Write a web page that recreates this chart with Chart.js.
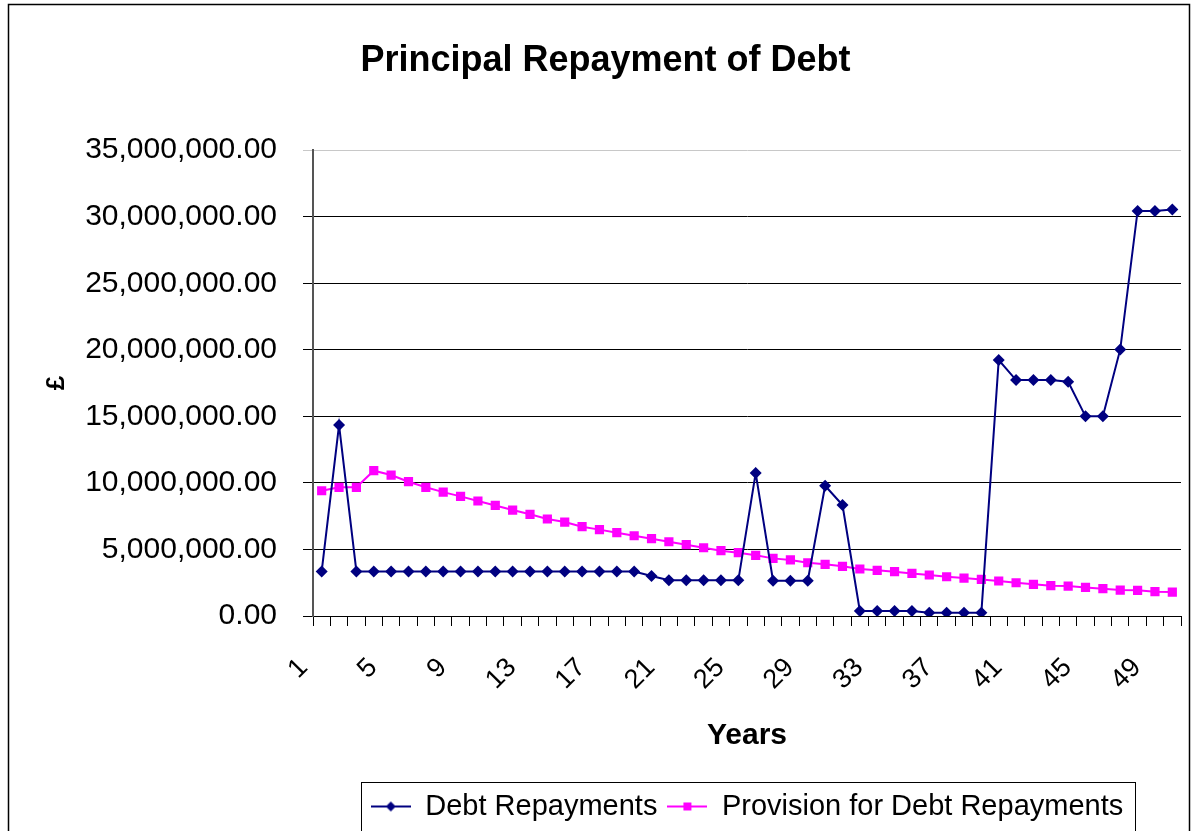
<!DOCTYPE html>
<html>
<head>
<meta charset="utf-8">
<script src="https://cdn.jsdelivr.net/npm/chart.js@4.4.0/dist/chart.umd.min.js"></script>
<style>
  html, body { margin: 0; padding: 0; background: #fff; }
  #wrap { width: 1196px; height: 831px; position: relative; }
</style>
</head>
<body>
<div id="wrap"><canvas id="chart_principalRepayment"></canvas></div>
<script>
var years = [
    '1', '2', '3', '4', '5', '6', '7', '8', '9', '10',
    '11', '12', '13', '14', '15', '16', '17', '18', '19', '20',
    '21', '22', '23', '24', '25', '26', '27', '28', '29', '30',
    '31', '32', '33', '34', '35', '36', '37', '38', '39', '40',
    '41', '42', '43', '44', '45', '46', '47', '48', '49', '50'
];
var shownYearLabels = ['1', '5', '9', '13', '17', '21', '25', '29', '33', '37', '41', '45', '49'];

var debtRepayments = [
    3350000, 14350000, 3350000, 3350000, 3350000, 3350000, 3350000, 3350000, 3350000, 3350000,
    3350000, 3350000, 3350000, 3350000, 3350000, 3350000, 3350000, 3350000, 3350000, 3000000,
    2680000, 2680000, 2680000, 2680000, 2680000, 10740000, 2650000, 2650000, 2650000, 9790000,
    8340000, 380000, 380000, 380000, 380000, 250000, 250000, 250000, 250000, 19230000,
    17730000, 17730000, 17730000, 17600000, 15000000, 15000000, 20030000, 30440000, 30440000, 30550000
];
var debtProvision = [
    9410000, 9670000, 9670000, 10920000, 10590000, 10090000, 9670000, 9310000, 8990000, 8640000,
    8310000, 7960000, 7640000, 7290000, 7060000, 6710000, 6490000, 6260000, 6030000, 5810000,
    5580000, 5360000, 5130000, 4910000, 4760000, 4560000, 4330000, 4210000, 4000000, 3880000,
    3730000, 3530000, 3430000, 3330000, 3200000, 3080000, 2950000, 2850000, 2750000, 2630000,
    2500000, 2380000, 2280000, 2250000, 2150000, 2050000, 1950000, 1930000, 1830000, 1800000
];

var FONT = "'Liberation Sans', Arial, sans-serif";
var NAVY = '#000080';
var PINK = '#FF00FF';

// legend swatch: short line with the marker in the middle, like the spreadsheet legend
function legendIcon(color, shape) {
    var c = document.createElement('canvas');
    c.width = 40;
    c.height = 14;
    var g = c.getContext('2d');
    g.strokeStyle = color;
    g.lineWidth = 2;
    g.beginPath();
    g.moveTo(0, 7);
    g.lineTo(40, 7);
    g.stroke();
    g.fillStyle = color;
    g.beginPath();
    if (shape === 'diamond') {
        g.moveTo(20, 2); g.lineTo(25, 7); g.lineTo(20, 12); g.lineTo(15, 7);
    } else {
        g.rect(16, 3, 8, 8);
    }
    g.fill();
    return c;
}
var legendIcons = [legendIcon(NAVY, 'diamond'), legendIcon(PINK, 'square')];

var chart_principalRepayment = new Chart(document.getElementById('chart_principalRepayment'), {
    type: 'line',
    data: {
        labels: years,
        datasets: [
            {
                label: 'Debt Repayments',
                data: debtRepayments,
                borderColor: NAVY,
                backgroundColor: NAVY,
                borderWidth: 2,
                pointStyle: 'rectRot',
                pointRadius: 6,
                pointBorderWidth: 0,
                tension: 0
            },
            {
                label: 'Provision for Debt Repayments',
                data: debtProvision,
                borderColor: PINK,
                backgroundColor: PINK,
                borderWidth: 2,
                pointStyle: 'rect',
                pointRadius: 6.5,
                pointBorderWidth: 0,
                tension: 0
            }
        ]
    },
    options: {
        animation: false,
        responsive: true,
        maintainAspectRatio: false,
        layout: {
            padding: { left: 30, right: 15, top: 10, bottom: 0 }
        },
        plugins: {
            title: {
                display: true,
                text: 'Principal Repayment of Debt',
                color: '#000',
                font: { family: FONT, size: 36, weight: 'bold' },
                padding: { top: 29, bottom: 68 }
            },
            legend: {
                position: 'bottom',
                fullSize: false,
                labels: {
                    color: '#000',
                    font: { family: FONT, size: 29 },
                    usePointStyle: true,
                    pointStyleWidth: 40,
                    padding: 10,
                    generateLabels: function (chart) {
                        var items = Chart.defaults.plugins.legend.labels.generateLabels(chart);
                        items.forEach(function (it, i) { it.pointStyle = legendIcons[i]; });
                        return items;
                    }
                }
            },
            tooltip: { enabled: false }
        },
        scales: {
            x: {
                offset: true,
                afterFit: function (scale) {
                    scale.height = 166;
                    scale.paddingLeft = 0;
                    scale.paddingRight = 0;
                },
                grid: {
                    offset: true,
                    drawOnChartArea: false,
                    color: '#000',
                    tickLength: 10
                },
                border: { color: '#000', width: 1 },
                ticks: {
                    autoSkip: false,
                    maxRotation: 45,
                    minRotation: 45,
                    padding: 26,
                    labelOffset: -18,
                    color: '#000',
                    font: { family: FONT, size: 27 },
                    callback: function (value, index) {
                        var lab = years[index];
                        return shownYearLabels.indexOf(lab) >= 0 ? lab : '';
                    }
                },
                title: {
                    display: true,
                    text: 'Years',
                    color: '#000',
                    font: { family: FONT, size: 30, weight: 'bold' },
                    padding: { top: 0, bottom: 28 }
                }
            },
            y: {
                min: 0,
                max: 35000000,
                afterFit: function (scale) { scale.width = 283; },
                grid: {
                    color: function (ctx) { return ctx.tick && ctx.tick.value === 35000000 ? '#c8c8c8' : '#000'; },
                    tickLength: 10
                },
                border: { color: '#555', width: 2 },
                ticks: {
                    stepSize: 5000000,
                    padding: 26,
                    color: '#000',
                    font: { family: FONT, size: 30 },
                    callback: function (v) {
                        return v.toLocaleString('en-US', { minimumFractionDigits: 2, maximumFractionDigits: 2 });
                    }
                },
                title: {
                    display: true,
                    text: '£',
                    color: '#000',
                    font: { family: FONT, size: 26, weight: 'bold' },
                    padding: { top: 11, bottom: 0 }
                }
            }
        }
    },
    plugins: [{
        id: 'frameAndLegendBox',
        beforeDraw: function (chart) {
            var ctx = chart.ctx;
            ctx.save();
            ctx.globalCompositeOperation = 'destination-over';
            ctx.fillStyle = 'white';
            ctx.fillRect(0, 0, chart.width, chart.height);
            ctx.restore();
        },
        afterDraw: function (chart) {
            var ctx = chart.ctx;
            ctx.save();
            ctx.strokeStyle = '#000';
            ctx.lineWidth = 1.5;
            ctx.strokeRect(8.5, 4.5, 1181, 900);
            var lg = chart.legend;
            var hb = lg.legendHitBoxes;
            if (hb && hb.length) {
                var left = hb[0].left - 10;
                var last = hb[hb.length - 1];
                var right = last.left + last.width + 12;
                ctx.lineWidth = 1;
                ctx.strokeRect(Math.round(left) + 0.5, Math.round(lg.top) + 0.5, Math.round(right - left), 100);
            }
            ctx.restore();
        }
    }]
});
</script>
</body>
</html>
